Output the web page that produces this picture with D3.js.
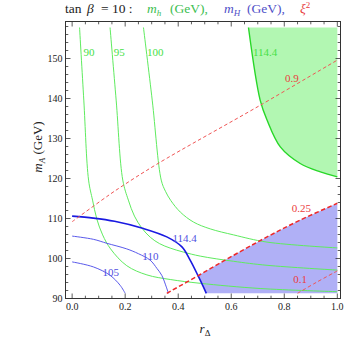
<!DOCTYPE html>
<html><head><meta charset="utf-8">
<script src="https://cdn.jsdelivr.net/npm/d3@7"></script>
<style>
body{margin:0;background:#fff;}
svg{font-family:"Liberation Serif","DejaVu Serif",serif;}
</style></head><body>
<svg id="chart" width="346" height="339"></svg>
<script>
// contour data: [r_Delta, m_A]
var mh90 = [[0.028,157.75],[0.044,139.6],[0.062,119.6],[0.077,114.6],[0.093,109.9],[0.115,105.9],[0.145,102.4],[0.206,98.2],[0.282,95.9],[0.370,94.75],[0.483,93.8],[0.709,92.5],[1.0,91.7]];
var mh95 = [[0.143,157.75],[0.166,139.6],[0.191,119.6],[0.212,114.6],[0.235,110.6],[0.263,107.6],[0.295,105.3],[0.33,103.7],[0.37,102.6],[0.42,101.6],[0.483,100.6],[0.609,99.3],[0.735,98.3],[1.0,97.1]];
var mh100 = [[0.269,157.75],[0.302,139.6],[0.336,119.6],[0.352,116.8],[0.372,114.5],[0.408,111.6],[0.458,109.1],[0.521,107.4],[0.609,105.9],[0.735,104.1],[1.0,102.65]];
var mh1144 = [[0.665,157.75],[0.709,139.6],[0.735,134.6],[0.785,127.9],[0.860,123.75],[0.936,121.65],[1.0,120.4]];

var mH105 = [[0,99.15],[0.08,97.9],[0.143,95.8],[0.181,93.3],[0.2,91.3]];
var mH110 = [[0,105.6],[0.08,104.8],[0.131,103.8],[0.206,102.4],[0.25,101.2],[0.294,99.6],[0.32,97.5],[0.338,95.8],[0.355,92.9],[0.363,91.3]];
var mH1144 = [[0,110.6],[0.08,110.1],[0.16,109.3],[0.269,107.5],[0.357,105.4],[0.414,102.9],[0.445,99.6],[0.477,95.4],[0.495,92.9],[0.506,91.3]];

var xi09 = [[0,109.2],[0.112,114.6],[0.175,117.5],[0.32,123.6],[0.709,138.3],[1.0,149.6]];
var xi025 = [[0.357,91.3],[0.483,96],[0.609,100.8],[0.735,105.4],[0.86,109.6],[1.0,113.8]];
var xi01 = [[0.85,91.3],[0.92,94.0],[1.0,96.9]];

var mhLabels = [{t:"90",r:0.064,m:151.6},{t:"95",r:0.178,m:151.6},{t:"100",r:0.313,m:151.6},{t:"114.4",r:0.728,m:151.6}];
var mHLabels = [{t:"105",r:0.146,m:96.5},{t:"110",r:0.295,m:100.6},{t:"114.4",r:0.424,m:105.0}];
var xiLabels = [{t:"0.9",r:0.829,m:145.2},{t:"0.25",r:0.864,m:112.5},{t:"0.1",r:0.86,m:94.8}];

var xMajor = [0,0.2,0.4,0.6,0.8,1.0];
var yMajor = [90,100,110,120,130,140,150];
var rMax = 1.0, mBottom = 91.3;

var svg = d3.select("#chart");
var x = d3.scaleLinear().domain([-0.025,1.012]).range([65.5,340.5]);
var y = d3.scaleLinear().domain([90,159.25]).range([298.5,21.5]);

var line = d3.line().x(function(d){return x(d[0]);}).y(function(d){return y(d[1]);}).curve(d3.curveCatmullRom.alpha(0.5));
var lineLin = d3.line().x(function(d){return x(d[0]);}).y(function(d){return y(d[1]);});

function intersect(a, b) {
  for (var i=0;i<a.length-1;i++) for (var j=0;j<b.length-1;j++) {
    var p=a[i],p2=a[i+1],q=b[j],q2=b[j+1];
    var d=(p2[0]-p[0])*(q2[1]-q[1])-(p2[1]-p[1])*(q2[0]-q[0]);
    if (!d) continue;
    var t=((q[0]-p[0])*(q2[1]-q[1])-(q[1]-p[1])*(q2[0]-q[0]))/d;
    var u=((q[0]-p[0])*(p2[1]-p[1])-(q[1]-p[1])*(p2[0]-p[0]))/d;
    if (t>=0&&t<=1&&u>=0&&u<=1) return {i:i,pt:[p[0]+t*(p2[0]-p[0]),p[1]+t*(p2[1]-p[1])]};
  }
}

// green region (m_h > 114.4)
svg.append("path")
  .attr("d", d3.area().x0(function(d){return x(d[0]);}).x1(x(rMax)).y(function(d){return y(d[1]);}).curve(d3.curveCatmullRom.alpha(0.5))(mh1144))
  .attr("fill","rgb(178,247,178)");

// blue region
var hit = intersect(mH1144, xi025);
var poly = [hit.pt].concat(xi025.filter(function(d){return d[0]>hit.pt[0];}))
  .concat([[rMax,mBottom]]).concat(mH1144.slice(hit.i+1).reverse());
svg.append("path").attr("d", lineLin(poly)+"Z").attr("fill","rgb(176,176,246)");

// m_h contours
[mh90,mh95,mh100].forEach(function(c){
  svg.append("path").attr("d",line(c)).attr("fill","none").attr("stroke","rgb(95,235,95)").attr("stroke-width",1);
});
svg.append("path").attr("d",line(mh1144)).attr("fill","none").attr("stroke","rgb(40,215,40)").attr("stroke-width",1.4);

// m_H contours
[mH105,mH110].forEach(function(c){
  svg.append("path").attr("d",line(c)).attr("fill","none").attr("stroke","rgb(90,90,235)").attr("stroke-width",1);
});
svg.append("path").attr("d",line(mH1144)).attr("fill","none").attr("stroke","rgb(25,25,225)").attr("stroke-width",1.6);

// xi^2 contours
[xi09,xi01].forEach(function(c){
  svg.append("path").attr("d",line(c)).attr("fill","none").attr("stroke","rgb(240,85,85)").attr("stroke-width",1).attr("stroke-dasharray","3.5,2.5");
});
svg.append("path").attr("d",line(xi025)).attr("fill","none").attr("stroke","rgb(238,40,40)").attr("stroke-width",1.5).attr("stroke-dasharray","4.5,2.5");

// contour labels
function labels(arr, col) {
  svg.selectAll(null).data(arr).enter().append("text")
    .attr("x",function(d){return x(d.r);}).attr("y",function(d){return y(d.m);})
    .attr("dy","0.35em").attr("text-anchor","middle")
    .attr("font-size",11).attr("fill",col).text(function(d){return d.t;});
}
labels(mhLabels,"rgb(70,225,70)");
labels(mHLabels,"rgb(80,80,225)");
labels(xiLabels,"rgb(235,60,60)");

// frame and ticks
var x0=x.range()[0], x1=x.range()[1], y0=y.range()[0], y1=y.range()[1];
svg.append("rect").attr("x",x0).attr("y",y1).attr("width",x1-x0).attr("height",y0-y1)
  .attr("fill","none").attr("stroke","#333").attr("stroke-width",1);

var xMinor = d3.range(0,1.0001,0.05);
var yMinor = d3.range(90,158.1,2);
var tk = svg.append("g").attr("stroke","#333").attr("stroke-width",0.8);
xMinor.forEach(function(v){
  var big = xMajor.some(function(m){return Math.abs(m-v)<1e-6;});
  var L = big?5:2.8;
  tk.append("line").attr("x1",x(v)).attr("x2",x(v)).attr("y1",y0).attr("y2",y0-L);
  tk.append("line").attr("x1",x(v)).attr("x2",x(v)).attr("y1",y1).attr("y2",y1+L);
});
yMinor.forEach(function(v){
  var big = v%10===0;
  var L = big?5:2.8;
  tk.append("line").attr("y1",y(v)).attr("y2",y(v)).attr("x1",x0).attr("x2",x0+L);
  tk.append("line").attr("y1",y(v)).attr("y2",y(v)).attr("x1",x1).attr("x2",x1-L);
});

svg.selectAll(null).data(xMajor).enter().append("text")
  .attr("x",function(d){return x(d);}).attr("y",y0+11).attr("text-anchor","middle")
  .attr("font-size",10).attr("fill","#222").text(d3.format(".1f"));
svg.selectAll(null).data(yMajor).enter().append("text")
  .attr("x",x0-3).attr("y",function(d){return y(d);}).attr("dy","0.35em").attr("text-anchor","end")
  .attr("font-size",10).attr("fill","#222").text(function(d){return d;});

// axis titles
var xl = svg.append("text").attr("x",205).attr("y",333).attr("text-anchor","middle").attr("font-size",13).attr("fill","#222");
xl.append("tspan").attr("font-style","italic").text("r");
xl.append("tspan").attr("font-size",9).attr("dy",3).text("Δ");

var yl = svg.append("text").attr("transform","translate(42,147) rotate(-90)").attr("text-anchor","middle").attr("font-size",13).attr("fill","#222");
yl.append("tspan").attr("font-style","italic").text("m");
yl.append("tspan").attr("font-style","italic").attr("font-size",9).attr("dy",3).text("A");
yl.append("tspan").attr("dy",-3).text(" (GeV)");

// title
var tt = svg.append("text").attr("x",65).attr("y",13).attr("font-size",13.5).attr("fill","#222");
tt.append("tspan").text("tan");
tt.append("tspan").attr("font-style","italic").attr("x",87).text("β");
tt.append("tspan").attr("x",101).text("= 10 :");
tt.append("tspan").attr("x",147).attr("font-style","italic").attr("fill","rgb(60,190,80)").text("m");
tt.append("tspan").attr("font-style","italic").attr("font-size",9).attr("dy",3).attr("fill","rgb(60,190,80)").text("h");
tt.append("tspan").attr("dy",-3).attr("x",170).attr("fill","rgb(60,190,80)").text("(GeV),");
tt.append("tspan").attr("x",224).attr("font-style","italic").attr("fill","rgb(80,80,200)").text("m");
tt.append("tspan").attr("font-style","italic").attr("font-size",9).attr("dy",3).attr("fill","rgb(80,80,200)").text("H");
tt.append("tspan").attr("dy",-3).attr("x",247).attr("fill","rgb(80,80,200)").text("(GeV),");
tt.append("tspan").attr("x",300).attr("font-style","italic").attr("fill","rgb(232,60,60)").text("ξ");
tt.append("tspan").attr("font-size",9).attr("dy",-5).attr("fill","rgb(232,60,60)").text("2");
</script></body></html>
